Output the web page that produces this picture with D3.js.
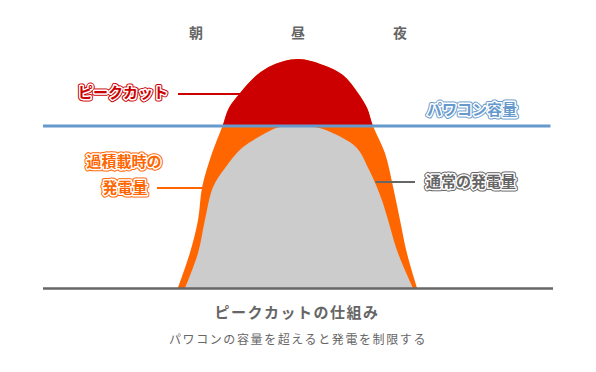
<!DOCTYPE html>
<html>
<head>
<meta charset="utf-8">
<script src="https://cdn.jsdelivr.net/npm/d3@7"></script>
<style>
    body { margin: 0; background: #fff; }
    #chart { width: 596px; height: 372px; }
    text { font-family: "Noto Sans CJK JP", "Noto Sans", sans-serif; }
</style>
</head>
<body>
<div id="chart"></div>
<script>

// time of day (hours) and output (% of inverter capacity)
let outerHours = [7.29, 7.76, 8.08, 8.24, 8.63, 9.04, 9.29, 9.73, 10.39, 11.02, 12, 12.98, 13.76, 14.35, 14.71, 14.94, 15.41, 15.73, 16.0, 16.27, 16.67];
let outerPct   = [0, 21.6, 42, 62.3, 83.3, 100, 111.1, 120.4, 131.5, 137.7, 141.4, 137.7, 131.5, 120.4, 111.1, 100, 83.3, 62.3, 42, 21.6, 0];

let innerHours = [7.57, 8.08, 8.35, 8.67, 9.14, 9.80, 10.59, 11.22, 12, 12.75, 13.53, 14.31, 14.75, 15.06, 15.33, 15.53, 15.92, 16.51];
let innerPct   = [0, 21.6, 42, 62.3, 74.1, 86.4, 94.4, 99.1, 99.6, 99.1, 94.4, 86.4, 74.1, 63.6, 52.5, 42, 21.6, 0];

let capacity = 100;
let timeLabels = ["朝", "昼", "夜"];
let timeTicks = [8, 12, 16];

let title = "ピークカットの仕組み";
let subtitle = "パワコンの容量を超えると発電を制限する";

let outerData = outerHours.map((h, i) => ({h: h, v: outerPct[i]}));
let innerData = innerHours.map((h, i) => ({h: h, v: innerPct[i]}));

let width = 596, height = 372;

let svg = d3.select("#chart").append("svg")
    .attr("width", width)
    .attr("height", height);

// scales
let x = d3.scaleLinear().domain([2, 22]).range([43, 553]);
let y = d3.scaleLinear().domain([0, 100]).range([288, 126]);

let area = d3.area()
    .x(d => x(d.h))
    .y0(y(0))
    .y1(d => y(d.v))
    .curve(d3.curveCatmullRom.alpha(0.5));

// clip for the part above capacity
svg.append("defs").append("clipPath")
    .attr("id", "above-cap")
    .append("rect")
    .attr("x", 0).attr("y", 0)
    .attr("width", width)
    .attr("height", y(capacity));

// overloaded generation
svg.append("path")
    .datum(outerData)
    .attr("d", area)
    .attr("fill", "#ff6600");

// peak cut
svg.append("path")
    .datum(outerData)
    .attr("d", area)
    .attr("clip-path", "url(#above-cap)")
    .attr("fill", "#cc0000");

// normal generation
svg.append("path")
    .datum(innerData)
    .attr("d", area)
    .attr("fill", "#cccccc");

// capacity line
svg.append("line")
    .attr("x1", x(2)).attr("x2", x(21.9))
    .attr("y1", y(capacity)).attr("y2", y(capacity))
    .attr("stroke", "#6699cc")
    .attr("stroke-width", 3);

// baseline
svg.append("line")
    .attr("x1", x(2)).attr("x2", x(22))
    .attr("y1", y(0) + 0.5).attr("y2", y(0) + 0.5)
    .attr("stroke", "#666")
    .attr("stroke-width", 2.5);

// time labels
svg.selectAll(".time-label")
    .data(timeLabels)
    .enter().append("text")
    .attr("class", "time-label")
    .attr("x", (d, i) => x(timeTicks[i]))
    .attr("y", 33)
    .attr("dy", "0.35em")
    .attr("text-anchor", "middle")
    .attr("fill", "#666")
    .style("font-size", "14px")
    .style("font-weight", "bold")
    .text(d => d);

// outlined label: colour ring, white ring, colour fill
function outlined(txt, px, py, color, anchor) {
    let g = svg.append("g");
    [[color, 5], ["#fff", 3], [null, 0]].forEach(layer => {
        let t = g.append("text")
            .attr("x", px).attr("y", py)
            .attr("dy", "0.35em")
            .attr("text-anchor", anchor)
            .style("font-size", "15px")
            .style("font-weight", "bold")
            .attr("fill", color)
            .text(txt);
        if (layer[0]) {
            t.attr("stroke", layer[0])
                .attr("stroke-width", layer[1])
                .attr("stroke-linejoin", "round");
        }
    });
}

function leader(x1, x2, yy, color) {
    svg.append("line")
        .attr("x1", x1).attr("x2", x2)
        .attr("y1", yy).attr("y2", yy)
        .attr("stroke", color)
        .attr("stroke-width", 2);
}

// peak cut label
outlined("ピークカット", 123, 93, "#cc0000", "middle");
leader(178, x(9.73), y(120.4) + 1, "#cc0000");

// capacity label
outlined("パワコン容量", 472, 110, "#6699cc", "middle");

// overloaded label
outlined("過積載時の", 124, 162, "#ff6600", "middle");
outlined("発電量", 125, 188, "#ff6600", "middle");
leader(157, x(8.26), 188, "#ff6600");

// normal label
outlined("通常の発電量", 471, 182, "#666666", "middle");
leader(x(15.04), 415, 182, "#666666");

// title + subtitle
svg.append("text")
    .attr("x", 297).attr("y", 313)
    .attr("dy", "0.35em")
    .attr("text-anchor", "middle")
    .attr("fill", "#666")
    .style("font-size", "15px")
    .style("font-weight", "bold")
    .style("letter-spacing", "1.5px")
    .text(title);

svg.append("text")
    .attr("x", 298).attr("y", 340)
    .attr("dy", "0.35em")
    .attr("text-anchor", "middle")
    .attr("fill", "#666")
    .style("font-size", "12px")
    .style("letter-spacing", "1.6px")
    .text(subtitle);

</script>
</body>
</html>
